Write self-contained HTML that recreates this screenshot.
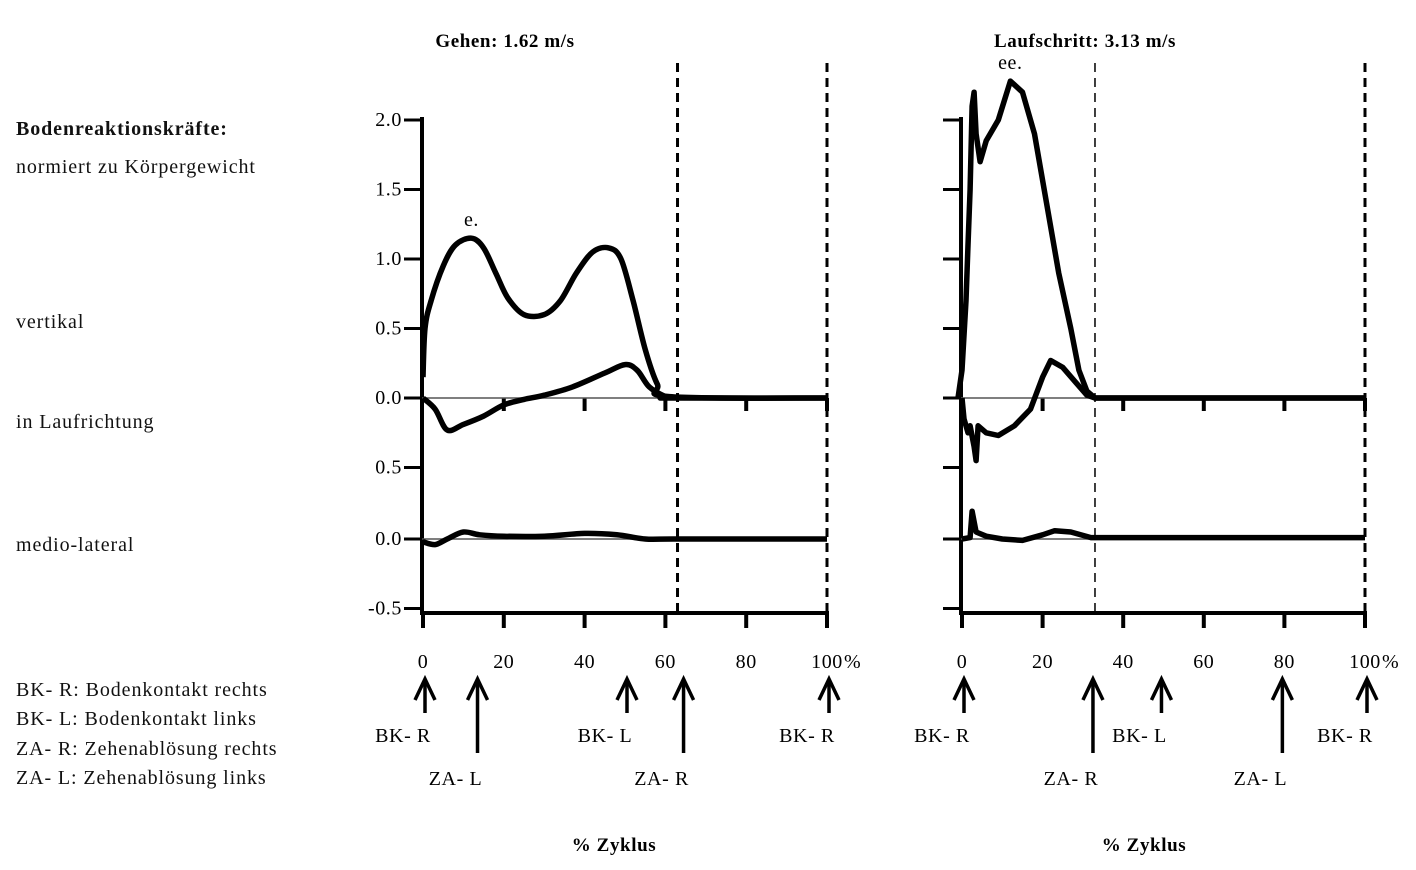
<!DOCTYPE html>
<html><head><meta charset="utf-8"><style>
body{margin:0;background:#fff;}
svg{display:block;font-family:"Liberation Serif",serif;}
</style></head><body>
<svg id="c" width="1416" height="870" xmlns="http://www.w3.org/2000/svg">
<g font-size="20" letter-spacing="0.9" fill="#111">
<text x="16" y="135" font-weight="bold">Bodenreaktionskräfte:</text>
<text x="16" y="173">normiert zu Körpergewicht</text>
<text x="16" y="328">vertikal</text>
<text x="16" y="428">in Laufrichtung</text>
<text x="16" y="551">medio-lateral</text>
<text x="16" y="696">BK- R: Bodenkontakt rechts</text>
<text x="16" y="725">BK- L: Bodenkontakt links</text>
<text x="16" y="755">ZA- R: Zehenablösung rechts</text>
<text x="16" y="784">ZA- L: Zehenablösung links</text>
</g>
</svg>
<script>
const categoriesPct=[0,20,40,60,80,100];
const yTickLabels=["2.0","1.5","1.0","0.5","0.0","0.5","0.0","-0.5"];
const yTickVals=[2.0,1.5,1.0,0.5,0.0,-0.5,0.0,-0.5];
const yTickPanel=["u","u","u","u","u","u","l","l"];
const walkVertX=[0,0.5,2,5,8,12,15,18,21,25,30,34,38,42,46,49,52,55,58,61,100];
const walkVertY=[0.15,0.5,0.7,0.95,1.1,1.15,1.08,0.9,0.72,0.6,0.6,0.7,0.9,1.05,1.08,1.0,0.7,0.35,0.1,0.01,0];
const walkApX=[0,3,6,10,15,20,25,30,37,45,50,53,56,60,62,100];
const walkApY=[0,-0.08,-0.23,-0.19,-0.13,-0.05,-0.01,0.02,0.08,0.18,0.24,0.2,0.08,0.01,0,0];
const walkMlX=[0,3,6,10,14,20,30,40,48,55,62,100];
const walkMlY=[-0.02,-0.04,0.0,0.05,0.03,0.02,0.02,0.04,0.03,0.0,0.0,0];
const runVertX=[-1,0,1,1.5,2,2.5,3,3.5,4.5,6,9,12,15,18,21,24,27,29,31,33,100];
const runVertY=[0,0.2,0.7,1.1,1.5,2.1,2.2,1.9,1.7,1.85,2.0,2.28,2.2,1.9,1.4,0.9,0.5,0.2,0.05,0,0];
const runApX=[0,0.5,1.5,2,3,3.5,4,6,9,13,17,20,22,25,28,31,33,100];
const runApY=[0,-0.15,-0.25,-0.2,-0.35,-0.45,-0.2,-0.25,-0.27,-0.2,-0.08,0.15,0.27,0.22,0.12,0.02,0,0];
const runMlX=[0,2,2.5,3.5,6,10,15,20,23,27,32,100];
const runMlY=[0,0.01,0.2,0.05,0.02,0.0,-0.01,0.03,0.06,0.05,0.01,0.01];
const walkEvents=["BK- R","ZA- L","BK- L","ZA- R","BK- R"];
const walkEventPct=[0,13,50,64,100];
const runEvents=["BK- R","ZA- R","BK- L","ZA- L","BK- R"];
const runEventPct=[0,32,49,79,100];

const NS="http://www.w3.org/2000/svg";
const svg=document.getElementById('c');
function el(tag,attrs,parent){const e=document.createElementNS(NS,tag);for(const k in attrs)e.setAttribute(k,attrs[k]);(parent||svg).appendChild(e);return e;}
const yU=v=>398-v*139, yL=v=>539-v*139;

function smoothPath(P){
  let d='M'+P[0][0].toFixed(1)+','+P[0][1].toFixed(1);
  for(let i=0;i<P.length-1;i++){
    const p0=P[Math.max(0,i-1)],p1=P[i],p2=P[i+1],p3=P[Math.min(P.length-1,i+2)];
    const c1=[p1[0]+(p2[0]-p0[0])/6,p1[1]+(p2[1]-p0[1])/6];
    const c2=[p2[0]-(p3[0]-p1[0])/6,p2[1]-(p3[1]-p1[1])/6];
    d+=' C'+c1.map(v=>v.toFixed(1)).join(',')+' '+c2.map(v=>v.toFixed(1)).join(',')+' '+p2[0].toFixed(1)+','+p2[1].toFixed(1);
  }
  return d;
}

function panel(px0,px1,title,labels,vx,vy,ax,ay,mx,my,dashPct,dashW,evN,evP,ann,annPct,annV,name,titleX,ztX,smooth){
  const g=el('g',{'letter-spacing':'0.6'});
  
  
  const X=p=>px0+(px1-px0)*p/100;
  const t=el('text',{x:titleX,y:47,'font-size':19,'font-weight':'bold','text-anchor':'middle'},g);
  t.textContent=title;
  
  
  const ax0=px0-1;
  const ya=el('line',{x1:ax0,y1:117,x2:ax0,y2:615,stroke:'#000','stroke-width':4},g);
  
  
  for(let i=0;i<yTickVals.length;i++){
    const yy=yTickPanel[i]==='u'?yU(yTickVals[i]):yL(yTickVals[i]);
    const tk=el('line',{x1:ax0-18,y1:yy,x2:ax0,y2:yy,stroke:'#000','stroke-width':3},g);
    
    
    if(labels){const tl=el('text',{x:ax0-20,y:yy+6,'font-size':20,'text-anchor':'end'},g);tl.textContent=yTickLabels[i];
      
      }
  }
  const xa=el('line',{x1:ax0,y1:613,x2:px1+2,y2:613,stroke:'#000','stroke-width':4},g);
  
  
  categoriesPct.forEach(c=>{
    const xx=X(c);
    const tk=el('line',{x1:xx,y1:613,x2:xx,y2:628,stroke:'#000','stroke-width':4},g);
    
    
    if(c>0){const t2=el('line',{x1:xx,y1:398,x2:xx,y2:411,stroke:'#000','stroke-width':4},g);
      
      }
    const tl=el('text',{x:xx,y:668,'font-size':20,'text-anchor':'middle'},g);tl.textContent=String(c);
    
    
  });
  const pc=el('text',{x:X(100)+17,y:668,'font-size':20},g);pc.textContent='%';
  
  
  const xt=el('text',{x:ztX,y:851,'font-size':19,'font-weight':'bold','text-anchor':'middle'},g);xt.textContent='% Zyklus';
  
  
  [[yU(0),'zero-line-upper'],[yL(0),'zero-line-lower']].forEach(([yy,n])=>{
    const z=el('line',{x1:ax0,y1:yy,x2:X(100),y2:yy,stroke:'#555','stroke-width':1.5},g);
    
    
  });
  const d1=el('line',{x1:X(dashPct),y1:63,x2:X(dashPct),y2:613,stroke:'#000','stroke-width':dashW,'stroke-dasharray':'9,6'},g);
  
  
  const d2=el('line',{x1:X(100),y1:63,x2:X(100),y2:613,stroke:'#000','stroke-width':3,'stroke-dasharray':'9,6'},g);
  
  
  const curve=(xs,ys,fy,n,sm)=>{
    const P=xs.map((x,i)=>[X(x),fy(ys[i])]);
    const d=sm?smoothPath(P):'M'+P.map(p=>p[0].toFixed(1)+','+p[1].toFixed(1)).join(' L');
    const p=el('path',{d:d,fill:'none',stroke:'#000','stroke-width':5.5,'stroke-linejoin':'round'},g);
    
    
  };
  curve(vx,vy,yU,'vertical-force-line',smooth);
  curve(ax,ay,yU,'ap-force-line',smooth);
  curve(mx,my,yL,'ml-force-line',smooth);
  const a=el('text',{x:X(annPct),y:yU(annV)-12,'font-size':20,'text-anchor':'middle'},g);a.textContent=ann;
  
  
  evP.forEach((p,i)=>{
    const xx=X(p)+2, long=evN[i].startsWith('ZA');
    const y2=long?753:713;
    const ar=el('g',{},g);
    
    
    el('line',{x1:xx,y1:680,x2:xx,y2:y2,stroke:'#000','stroke-width':3.5},ar);
    el('polyline',{points:(xx-10)+',700 '+xx+',679 '+(xx+10)+',700',fill:'none',stroke:'#000','stroke-width':3.5},ar);
    const lt=el('text',{x:xx-22,y:long?785:742,'font-size':20,'text-anchor':'middle'},g);lt.textContent=evN[i];
    
    
  });
}
panel(423,827,'Gehen: 1.62 m/s',true,walkVertX,walkVertY,walkApX,walkApY,walkMlX,walkMlY,63,3,walkEvents,walkEventPct,'e.',12,1.15,'walk-panel',505,614,true);
panel(962,1365,'Laufschritt: 3.13 m/s',false,runVertX,runVertY,runApX,runApY,runMlX,runMlY,33,1.5,runEvents,runEventPct,'ee.',12,2.28,'run-panel',1085,1144,false);
</script>
</body></html>
